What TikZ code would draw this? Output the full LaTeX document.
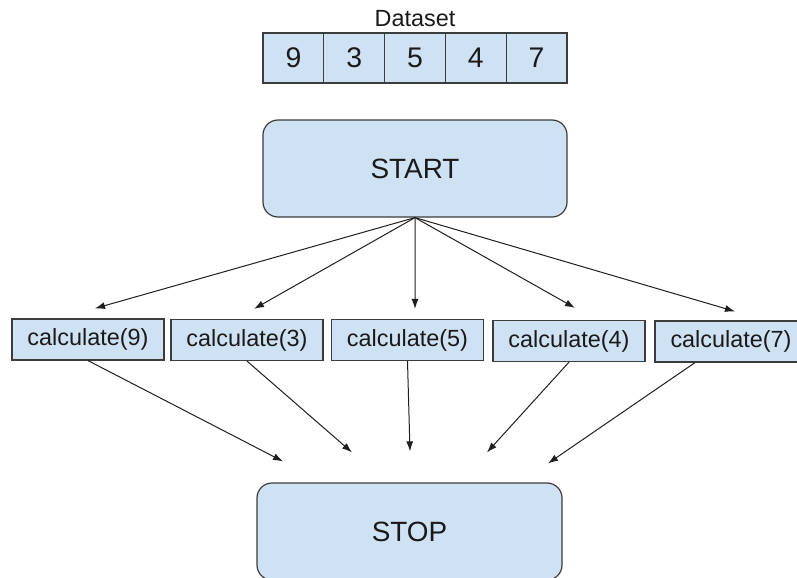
\documentclass[tikz,border=0pt]{standalone}
\usepackage{fontspec}
\setsansfont{Liberation Sans}
\usepackage{xcolor}
\usepackage{tikz}
\usetikzlibrary{arrows.meta, positioning}
\definecolor{boxfill}{HTML}{CFE2F3}
\definecolor{boxframe}{HTML}{3C3C3C}
\definecolor{linkcolor}{HTML}{1F1F1F}
\definecolor{textcolor}{HTML}{1A1A1A}

\begin{document}
\begin{tikzpicture}[x=1bp, y=-1bp,
    every node/.style={font=\sffamily, text=textcolor},
    cellbox/.style={
        rectangle, draw=boxframe, fill=boxfill, line width=1.2bp,
        minimum width=60.8bp, minimum height=50bp,
        inner sep=0pt, outer sep=0pt,
        font=\sffamily\fontsize{28.5}{32}\selectfont,
    },
    termbox/.style={
        rectangle, rounded corners=15bp,
        draw=boxframe, fill=boxfill, line width=1.2bp,
        minimum width=304bp, minimum height=97bp,
        font=\sffamily\fontsize{28}{32}\selectfont,
    },
    calcbox/.style={
        rectangle, draw=boxframe, fill=boxfill, line width=1.2bp,
        minimum width=152bp, minimum height=41bp, inner sep=0pt,
        font=\sffamily\fontsize{23.5}{27}\selectfont,
    },
    flowlink/.style={
        draw=linkcolor, line width=1bp,
        -{Latex[length=10bp, width=7bp]},
    },
]
\useasboundingbox (0,0) rectangle (797,578);

% ── Dataset array ──────────────────────────────────────────────────────
\node[cellbox] (cell9) at (293.4,58) {9};
\node[cellbox, right=0pt of cell9] (cell3) {3};
\node[cellbox, right=0pt of cell3] (cell5) {5};
\node[cellbox, right=0pt of cell5] (cell4) {4};
\node[cellbox, right=0pt of cell4] (cell7) {7};
\node[font=\sffamily\fontsize{23.5}{26}\selectfont] (dlabel) at (415,19) {Dataset};

% ── START ──────────────────────────────────────────────────────────────
\node[termbox] (start) at (415,168.5) {START};

% ── Calculations ───────────────────────────────────────────────────────
\node[calcbox] (calc9) at (88,339.5)  {calculate(9)};
\node[calcbox] (calc3) at (247,340)   {calculate(3)};
\node[calcbox] (calc5) at (407.5,340) {calculate(5)};
\node[calcbox] (calc4) at (569,341)   {calculate(4)};
\node[calcbox] (calc7) at (731,341.5) {calculate(7)};

% ── STOP ───────────────────────────────────────────────────────────────
\node[termbox, minimum width=305bp] (stop) at (409.5,531.5) {STOP};

% ── Links ──────────────────────────────────────────────────────────────
\draw[flowlink] (start.south) -- ([xshift=7bp, yshift=10bp]calc9.north);
\draw[flowlink] (start.south) -- ([xshift=7bp, yshift=10bp]calc3.north);
\draw[flowlink] (start.south) -- ([xshift=7.5bp, yshift=10bp]calc5.north);
\draw[flowlink] (start.south) -- ([xshift=6bp, yshift=12bp]calc4.north);
\draw[flowlink] (start.south) -- ([xshift=4bp, yshift=9bp]calc7.north);

\draw[flowlink] (calc9.south) -- ([xshift=-126.5bp, yshift=21bp]stop.north);
\draw[flowlink] (calc3.south) -- ([xshift=-57.5bp, yshift=30bp]stop.north);
\draw[flowlink] (calc5.south) -- ([xshift=0.5bp, yshift=31bp]stop.north);
\draw[flowlink] (calc4.south) -- ([xshift=77.5bp, yshift=30bp]stop.north);
\draw[flowlink] ([xshift=-36bp]calc7.south) -- ([xshift=138.5bp, yshift=19bp]stop.north);

\end{tikzpicture}
\end{document}
